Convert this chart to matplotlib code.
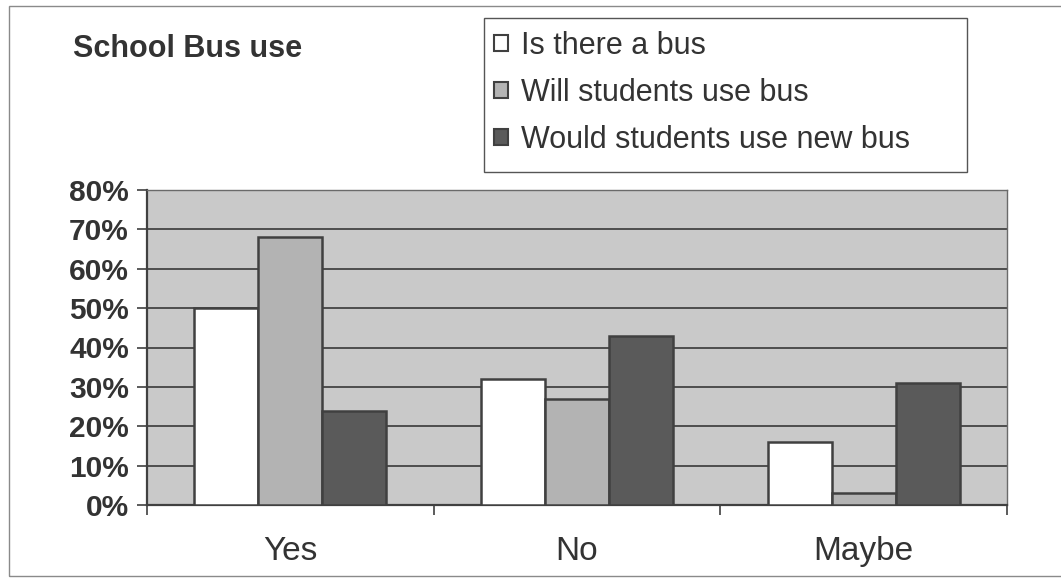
import matplotlib.pyplot as plt
import numpy as np
from matplotlib.patches import Rectangle, Patch

categories = ['Yes', 'No', 'Maybe']
series_names = ['Is there a bus', 'Will students use bus', 'Would students use new bus']
is_there_bus = [50, 32, 16]
will_use_bus = [68, 27, 3]
would_use_new = [24, 43, 31]
y_ticks = [0, 10, 20, 30, 40, 50, 60, 70, 80]

plt.rcParams['font.family'] = ['Liberation Sans', 'DejaVu Sans']
txt = '#333333'
edge = '#404040'
colors = ['#ffffff', '#b3b3b3', '#5a5a5a']

fig = plt.figure(figsize=(10.61, 5.78), dpi=100)
ax = fig.add_axes([147/1061, 1-505/578, (1007-147)/1061, (505-190)/578])
ax.set_facecolor('#c9c9c9')

x = np.arange(len(categories))
w = 0.223
for i, vals in enumerate([is_there_bus, will_use_bus, would_use_new]):
    ax.bar(x + (i-1)*w, vals, w, color=colors[i], edgecolor=edge, linewidth=1.8, zorder=3)

ax.set_xlim(-0.5, 2.5)
ax.set_ylim(0, 80)
ax.set_yticks(y_ticks)
ax.set_yticklabels([f'{v}%' for v in y_ticks], fontsize=21.5, fontweight='bold', color=txt)
ax.yaxis.grid(True, color='#444444', linewidth=1.3, zorder=1)
ax.set_axisbelow(True)

ax.set_xticks(x)
ax.set_xticklabels(categories, fontsize=24, color=txt)
ax.tick_params(axis='x', which='major', length=0, pad=22)
ax.set_xticks([-0.5, 0.5, 1.5, 2.5], minor=True)
ax.tick_params(axis='x', which='minor', length=7, width=1.2, color=edge, direction='out')
ax.tick_params(axis='y', length=7, width=1.2, color=edge, direction='out', pad=6)

for s in ['top', 'right']:
    ax.spines[s].set_color('#6a6a6a')
    ax.spines[s].set_linewidth(1.0)
for s in ['left', 'bottom']:
    ax.spines[s].set_color(edge)
    ax.spines[s].set_linewidth(1.6)

fig.text(73/1061, 1-49/578, 'School Bus use', fontsize=22, fontweight='bold',
         color=txt, va='center', ha='left')

# legend box
fig.patches.append(Rectangle((484/1061, 1-172/578), (967-484)/1061, (172-18)/578,
                             transform=fig.transFigure, facecolor='white',
                             edgecolor='#555555', linewidth=1.0, zorder=0))
handles = [Patch(facecolor=colors[i], edgecolor=edge, linewidth=1.5) for i in range(3)]
fig.legend(handles, series_names, loc='upper left', bbox_to_anchor=(494/1061, 1-31/578),
           frameon=False, fontsize=22, handlelength=0.45, handleheight=0.45,
           handletextpad=0.42, labelspacing=0.55, borderaxespad=0, borderpad=0.0,
           labelcolor=txt)

# outer border
fig.patches.append(Rectangle((9/1061, 2/578), 1.0, 1-8/578, transform=fig.transFigure,
                             facecolor='none', edgecolor='#8a8a8a', linewidth=1.0))

fig.savefig('out.png', dpi=100)
